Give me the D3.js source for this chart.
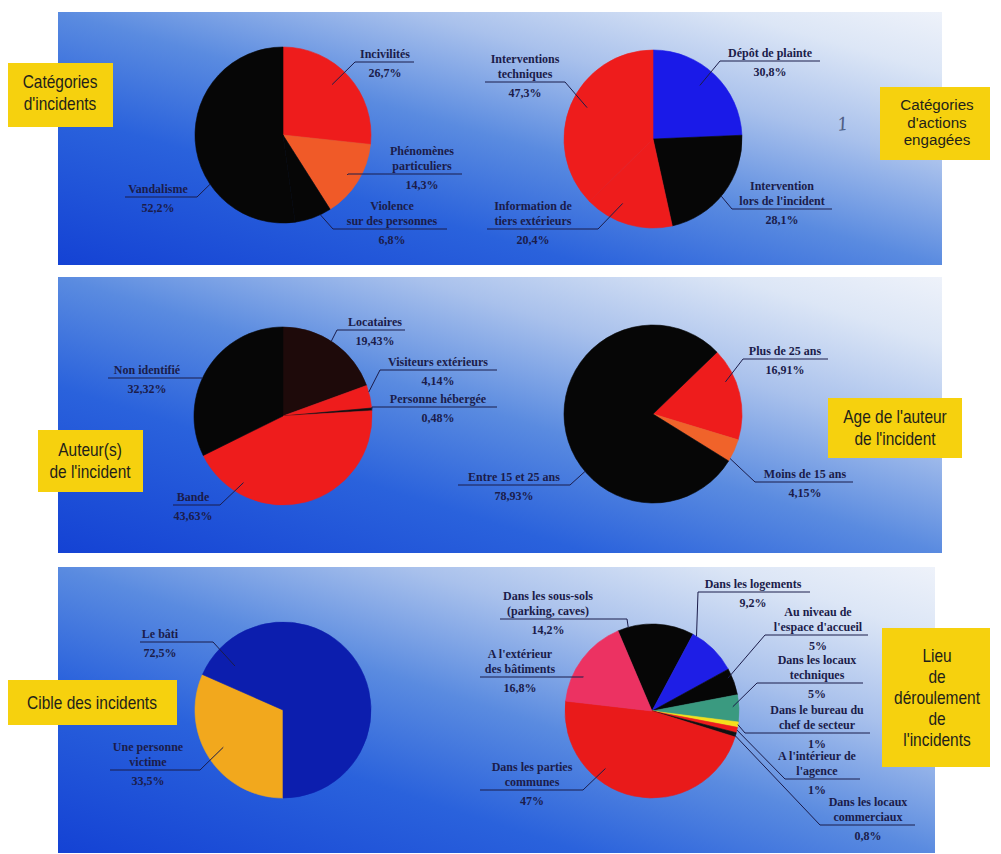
<!DOCTYPE html>
<html><head><meta charset="utf-8">
<script src="https://cdn.jsdelivr.net/npm/d3@7"></script>
<style>body{margin:0;background:#fff}svg{display:block}</style>
</head><body><svg id="c" width="1001" height="854"></svg>
<script>
// ---------- DATA ----------
const incidentCategories = ["Incivilités","Phénomènes\nparticuliers","Violence\nsur des personnes","Vandalisme"];
const incidentValues = [26.7, 14.3, 6.8, 52.2];

const actionCategories = ["Dépôt de plainte","Intervention\nlors de l'incident","Information de\ntiers extérieurs","Interventions\ntechniques"];
const actionValues = [30.8, 28.1, 20.4, 47.3];

const authorCategories = ["Locataires","Visiteurs extérieurs","Personne hébergée","Bande","Non identifié"];
const authorValues = [19.43, 4.14, 0.48, 43.63, 32.32];

const ageCategories = ["Plus de 25 ans","Moins de 15 ans","Entre 15 et 25 ans"];
const ageValues = [16.91, 4.15, 78.93];

const targetCategories = ["Une personne\nvictime","Le bâti"];
const targetValues = [33.5, 72.5];

const placeCategories = ["Dans les sous-sols\n(parking, caves)","Dans les logements","Au niveau de\nl'espace d'accueil","Dans les locaux\ntechniques","Dans le bureau du\nchef de secteur","A l'intérieur de\nl'agence","Dans les locaux\ncommerciaux","Dans les parties\ncommunes","A l'extérieur\ndes bâtiments"];
const placeValues = [14.2, 9.2, 5, 5, 1, 1, 0.8, 47, 16.8];

const titleTexts = [
  ["Catégories","d'incidents"],
  ["Catégories","d'actions","engagées"],
  ["Auteur(s)","de l'incident"],
  ["Age de l'auteur","de l'incident"],
  ["Cible des incidents"],
  ["Lieu","de","déroulement","de","l'incidents"]
];

// ---------- LAYOUT / STYLE ----------
const RED = "#ee1c1c", BLACK = "#060606";
const svg = d3.select("#c");
const defs = svg.append("defs");

const panels = [
  {x:58, y:12, w:884, h:253},
  {x:58, y:277, w:884, h:276},
  {x:58, y:567, w:877, h:286}
];
panels.forEach((p,i)=>{
  const gr = defs.append("linearGradient").attr("id","bg"+i)
    .attr("x1",0).attr("y1",1).attr("x2",1).attr("y2",0);
  [[0,"#1442d4"],[0.3,"#2a62dc"],[0.5,"#5a8be0"],[0.7,"#a9c1ec"],[0.88,"#dce6f6"],[1,"#eef2fa"]]
    .forEach(s=>gr.append("stop").attr("offset",s[0]).attr("stop-color",s[1]));
  svg.append("rect").attr("x",p.x).attr("y",p.y).attr("width",p.w).attr("height",p.h)
    .attr("fill","url(#bg"+i+")");
});

const charts = [
  {cats:incidentCategories, vals:incidentValues, cx:283, cy:135, r:88, rot:0,
   colors:[RED,"#f05a28",BLACK,BLACK],
   labels:[{cx:385,ul:62,x0:355,x1:414,t:0.46,rf:0.8},
           {cx:422,ul:174,x0:348,x1:462,t:0.5,rf:0.86},
           {cx:392,ul:229,x0:333,x1:447,t:0.3,rf:1.0},
           {cx:158,ul:197,x0:125,x1:197,t:0.34,rf:1.0}]},
  {cats:actionCategories, vals:actionValues, cx:653, cy:139, r:89, rot:0,
   colors:["#1a1ae8",BLACK,RED,RED],
   labels:[{cx:770,ul:61,x0:720,x1:820,t:0.47,rf:0.8},
           {cx:782,ul:209,x0:732,x1:832,t:0.53,rf:1.0},
           {cx:533,ul:229,x0:487,x1:598,t:0.65,rf:0.8},
           {cx:525,ul:82,x0:485,x1:565,t:0.52,rf:0.82}]},
  {cats:authorCategories, vals:authorValues, cx:283, cy:416, r:89, rot:0,
   colors:["#1e0a0a",RED,"#101010",RED,BLACK],
   labels:[{cx:375,ul:330,x0:337,x1:405,t:0.47,rf:1.0},
           {cx:438,ul:370,x0:380,x1:497,t:0.3,rf:1.0},
           {cx:438,ul:407,x0:372,x1:497,t:0.5,rf:1.0},
           {cx:193,ul:505,x0:173,x1:220,t:0.79,rf:0.87},
           {cx:147,ul:378,x0:108,x1:202,t:0.44,rf:1.0}]},
  {cats:ageCategories, vals:ageValues, cx:653, cy:414, r:89, rot:46*Math.PI/180,
   colors:[RED,"#f0632a",BLACK],
   labels:[{cx:785,ul:359,x0:743,x1:828,t:0.33,rf:0.89},
           {cx:805,ul:482,x0:755,x1:853,t:0.88,rf:1.0},
           {cx:514,ul:485,x0:458,x1:570,t:0.38,rf:1.0}]},
  {cats:targetCategories, vals:targetValues, cx:283, cy:710, r:88, rot:Math.PI,
   colors:["#f2a81d","#0c1eae"],
   labels:[{cx:148,ul:770,x0:110,x1:200,t:0.51,rf:0.8},
           {cx:160,ul:642,x0:140,x1:213,t:0.076,rf:0.74}]},
  {cats:placeCategories, vals:placeValues, cx:652, cy:711, r:87, rot:-23*Math.PI/180,
   colors:[BLACK,"#1e1ee6",BLACK,"#3a9a80","#f4e01c",RED,"#111111","#e91a1a","#ec3262"],
   labels:[{cx:548,ul:619,x0:500,x1:627,t:0.14,rf:1.0},
           {cx:753,ul:592,x0:698,x1:810,t:0.08,rf:1.0},
           {cx:818,ul:635,x0:765,x1:868,t:0.3,rf:0.95},
           {cx:817,ul:683,x0:757,x1:863,t:0.43,rf:0.93},
           {cx:817,ul:733,x0:745,x1:870,t:0.5,rf:1.0},
           {cx:817,ul:779,x0:785,x1:860,t:0.5,rf:1.0},
           {cx:868,ul:825,x0:820,x1:915,t:0.5,rf:0.98},
           {cx:532,ul:790,x0:480,x1:583,t:0.66,rf:0.85},
           {cx:520,ul:677,x0:480,x1:583,t:0.33,rf:0.88}]}
];

const fmt = v => String(v).replace(".", ",") + "%";
const INK = "#1b1c4a";

charts.forEach(ch=>{
  const pie = d3.pie().sort(null).value(d=>d)
    .startAngle(ch.rot).endAngle(ch.rot + 2*Math.PI);
  const arcs = pie(ch.vals);
  const arc = d3.arc().innerRadius(0).outerRadius(ch.r);
  const g = svg.append("g");
  g.selectAll("path").data(arcs).join("path")
    .attr("transform",`translate(${ch.cx},${ch.cy})`)
    .attr("d",arc).attr("fill",(d,i)=>ch.colors[i])
    .attr("stroke",(d,i)=>ch.colors[i]).attr("stroke-width",0.6).attr("stroke-linejoin","round");

  arcs.forEach((d,i)=>{
    const L = ch.labels[i];
    const a = d.startAngle + L.t*(d.endAngle - d.startAngle);
    const px = ch.cx + L.rf*ch.r*Math.sin(a), py = ch.cy - L.rf*ch.r*Math.cos(a);
    const ex = Math.abs(px-L.x0) < Math.abs(px-L.x1) ? L.x0 : L.x1;
    g.append("line").attr("x1",px).attr("y1",py).attr("x2",ex).attr("y2",L.ul)
      .attr("stroke",INK).attr("stroke-width",1);
    g.append("line").attr("x1",L.x0).attr("y1",L.ul).attr("x2",L.x1).attr("y2",L.ul)
      .attr("stroke",INK).attr("stroke-width",1);
    const lines = ch.cats[i].split("\n");
    const n = lines.length;
    const t = g.append("g").attr("font-family","'Liberation Serif','Times New Roman',serif")
      .attr("font-weight","bold").attr("font-size",12).attr("fill",INK).attr("text-anchor","middle");
    lines.forEach((s,k)=>{
      t.append("text").attr("x",L.cx).attr("y",L.ul - 4 - 15*(n-1-k)).text(s);
    });
    t.append("text").attr("x",L.cx).attr("y",L.ul + 15).text(fmt(ch.vals[i]));
  });
});

// ---------- TITLE BOXES ----------
const boxes = [
  {x:8, y:63, w:105, h:64, cx:60, b:[88,110], fs:18},
  {x:880, y:87, w:110, h:73, cx:937, b:[110,128,145], fs:15.5},
  {x:38, y:430, w:105, h:62, cx:90, b:[456,478], fs:18},
  {x:828, y:398, w:134, h:60, cx:895, b:[423,445], fs:18},
  {x:8, y:680, w:169, h:45, cx:92, b:[709], fs:18},
  {x:882, y:628, w:108, h:139, cx:937, b:[662,683,704,725,746], fs:18}
];
boxes.forEach((bx,i)=>{
  svg.append("rect").attr("x",bx.x).attr("y",bx.y).attr("width",bx.w).attr("height",bx.h)
    .attr("fill","#f6d10e");
  const sx = bx.fs < 18 ? 0.98 : 0.86;
  titleTexts[i].forEach((s,k)=>{
    svg.append("text")
      .attr("transform",`translate(${bx.cx},${bx.b[k]}) scale(${sx},1)`)
      .attr("text-anchor","middle")
      .attr("font-family","'Liberation Sans',Arial,sans-serif")
      .attr("font-size",bx.fs).attr("fill","#231f1a")
      .text(s);
  });
});

// handwritten mark
svg.append("text").attr("transform","translate(838,131) rotate(-8)")
  .attr("font-family","'DejaVu Serif',serif").attr("font-style","italic")
  .attr("font-size",18).attr("fill","#4f5f86").text("1");
</script>
</body></html>
